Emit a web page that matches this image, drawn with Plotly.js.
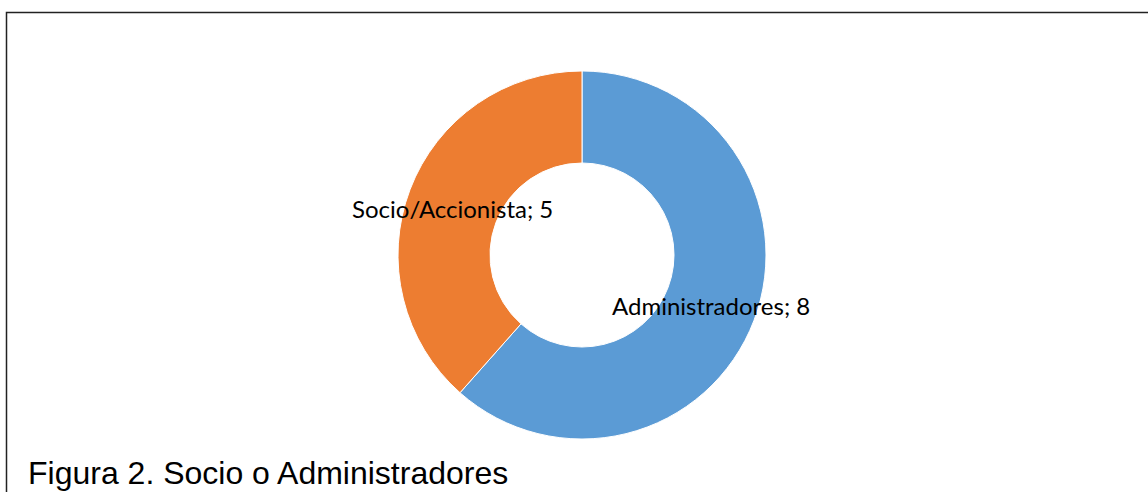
<!DOCTYPE html>
<html>
<head>
<meta charset="utf-8">
<script src="https://cdn.plot.ly/plotly-3.0.1.min.js"></script>
<style>
html,body{margin:0;padding:0;background:#fff;}
#chart{width:1148px;height:492px;}
</style>
</head>
<body>
<div id="chart"></div>
<script>
const categories = ["Administradores", "Socio/Accionista"];
const values = [8, 5];
const colors = ["#5B9BD5", "#ED7D31"];
const caption = "Figura 2. Socio o Administradores";

const W = 1148, H = 492;
const cx = 582, cy = 255, R = 184, hole = 0.5;
const domX = [(cx - R) / W, (cx + R) / W];
const domY = [(H - cy - R) / H, (H - cy + R) / H];

// label annotations at the mid-ring centroid of each slice (clockwise from top)
const total = values.reduce((a, b) => a + b, 0);
const annotations = [];
let acc = 0;
const rLab = R * (1 + hole) / 2;
values.forEach((v, i) => {
  const mid = (acc + v / 2) / total * 2 * Math.PI;
  acc += v;
  const px = cx + rLab * Math.sin(mid);
  const py = cy - rLab * Math.cos(mid) + 2;
  annotations.push({
    xref: "paper", yref: "paper",
    x: px / W, y: (H - py) / H,
    xanchor: "center", yanchor: "middle",
    text: categories[i] + "; " + v,
    showarrow: false,
    font: {family: "Lato, 'Noto Sans', sans-serif", size: 24, color: "#000"}
  });
});
annotations.push({
  xref: "paper", yref: "paper",
  x: 26 / W, y: (H - 473) / H,
  xanchor: "left", yanchor: "middle",
  text: caption, showarrow: false,
  font: {family: "'Liberation Sans', Arial, sans-serif", size: 32, color: "#000"}
});

const data = [{
  type: "pie",
  labels: categories,
  values: values,
  hole: hole,
  sort: false,
  direction: "clockwise",
  rotation: 0,
  marker: {colors: colors, line: {color: "#fff", width: 1}},
  textinfo: "none",
  hoverinfo: "label+value",
  showlegend: false,
  domain: {x: domX, y: domY}
}];

const layout = {
  width: W, height: H,
  margin: {l: 0, r: 0, t: 0, b: 0},
  paper_bgcolor: "#fff",
  showlegend: false,
  annotations: annotations,
  shapes: [{
    type: "rect", xref: "paper", yref: "paper",
    x0: 6.5 / W, x1: 1.02, y0: -0.02, y1: (H - 12.5) / H,
    line: {color: "#222", width: 1.5}
  }]
};

Plotly.newPlot("chart", data, layout, {displayModeBar: false, staticPlot: true});
</script>
</body>
</html>
